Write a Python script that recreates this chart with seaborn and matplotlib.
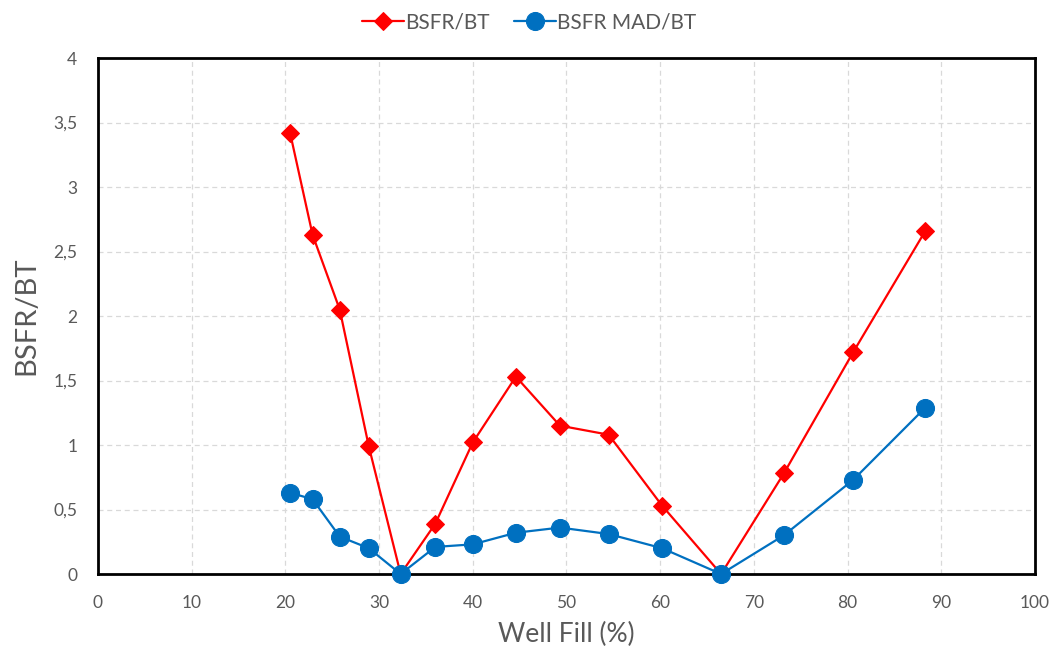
import matplotlib
matplotlib.use("Agg")
import matplotlib.pyplot as plt
import seaborn as sns
import pandas as pd
from matplotlib.ticker import FuncFormatter, MultipleLocator

# Values
well_fill = [20.5, 22.9, 25.8, 28.9, 32.3, 36.0, 40.0, 44.6, 49.3, 54.5, 60.2, 66.5, 73.2, 80.6, 88.3]
bsfr_bt = [3.42, 2.63, 2.05, 0.99, 0.0, 0.39, 1.02, 1.53, 1.15, 1.08, 0.53, 0.0, 0.78, 1.72, 2.66]
bsfr_mad_bt = [0.63, 0.58, 0.29, 0.20, 0.0, 0.21, 0.23, 0.32, 0.36, 0.31, 0.20, 0.0, 0.30, 0.73, 1.29]

sns.set_theme(style="white")
plt.rcParams['font.family'] = ['Lato', 'DejaVu Sans']

df = pd.DataFrame({"x": well_fill, "red": bsfr_bt, "blue": bsfr_mad_bt})

fig = plt.figure(figsize=(10.56, 6.57), dpi=100)
ax = fig.add_axes([0.0928, 0.1263, 0.8873, 0.7854])

sns.lineplot(data=df, x="x", y="red", ax=ax, color="#ff0000", marker="D",
             markersize=9, markeredgecolor="#ff0000", linewidth=1.6, label="BSFR/BT", zorder=3)
sns.lineplot(data=df, x="x", y="blue", ax=ax, color="#0070c0", marker="o",
             markersize=13, markeredgecolor="#0070c0", linewidth=1.6, label="BSFR MAD/BT", zorder=4)

ax.set_xlim(0, 100)
ax.set_ylim(0, 4)
ax.xaxis.set_major_locator(MultipleLocator(10))
ax.yaxis.set_major_locator(MultipleLocator(0.5))
ax.yaxis.set_major_formatter(FuncFormatter(lambda v, p: f"{v:g}".replace(".", ",")))

ax.grid(True, color="#d9d9d9", linestyle=(0, (4, 3)), linewidth=0.9)
for s in ax.spines.values():
    s.set_color("black")
    s.set_linewidth(2)
ax.tick_params(axis="both", direction="out", length=7, width=1.5, color="black",
               labelsize=12.5, labelcolor="#595959", pad=8)

ax.set_xlabel("Well Fill (%)", fontsize=19, color="#595959", labelpad=8)
ax.set_ylabel("BSFR/BT", fontsize=21, color="#595959", labelpad=10)

leg = ax.legend(loc="upper center", bbox_to_anchor=(0.46, 1.125), ncol=2, frameon=False,
                fontsize=15, handlelength=2.0, columnspacing=1.2, handletextpad=0.05)
for t in leg.get_texts():
    t.set_color("#595959")

for line in ax.lines:
    line.set_clip_on(False)

fig.savefig("out.png", dpi=100, facecolor="white")
